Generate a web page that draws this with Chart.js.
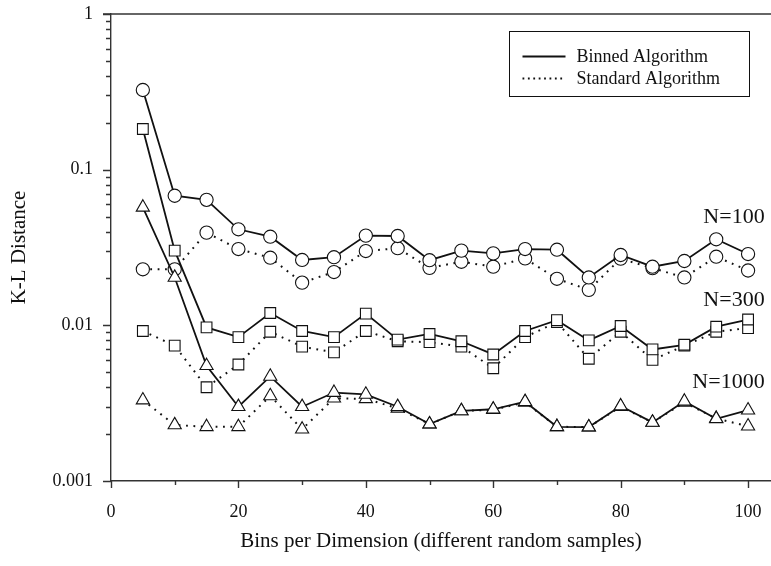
<!DOCTYPE html>
<html>
<head>
<meta charset="utf-8">
<title>K-L Distance vs Bins per Dimension</title>
<script src="https://cdn.jsdelivr.net/npm/chart.js@4.4.1/dist/chart.umd.min.js"></script>
<style>
  html, body { margin: 0; padding: 0; background: #fff; }
  #wrap { width: 771px; height: 566px; }
</style>
</head>
<body>
<div id="wrap"><canvas id="klChart" width="771" height="566"></canvas></div>
<script>
// bins per dimension (x values)
const bins = [5, 10, 15, 20, 25, 30, 35, 40, 45, 50, 55, 60, 65, 70, 75, 80, 85, 90, 95, 100];

// K-L distance, binned algorithm
const binnedN100 = [0.325, 0.068, 0.064, 0.0414, 0.0371, 0.0263, 0.0274, 0.0377, 0.0375, 0.0262, 0.0302, 0.0290, 0.0309, 0.0306, 0.0203, 0.0283, 0.0238, 0.0259, 0.0357, 0.0287];
const binnedN300 = [0.1825, 0.0302, 0.0097, 0.0084, 0.0120, 0.0092, 0.0084, 0.0119, 0.0081, 0.0088, 0.0079, 0.0065, 0.0092, 0.0108, 0.0080, 0.0099, 0.0070, 0.0075, 0.0098, 0.0109];
const binnedN1000 = [0.0573, 0.0203, 0.0055, 0.0030, 0.0047, 0.0030, 0.0037, 0.0036, 0.0030, 0.00232, 0.00282, 0.00289, 0.00323, 0.00223, 0.00222, 0.00303, 0.00238, 0.00325, 0.00251, 0.00285];

// K-L distance, standard algorithm
const standardN100 = [0.0229, 0.0229, 0.0394, 0.0309, 0.0272, 0.0188, 0.0220, 0.0300, 0.0313, 0.0234, 0.0256, 0.0238, 0.0269, 0.0199, 0.0169, 0.0268, 0.0233, 0.0203, 0.0276, 0.0225];
const standardN300 = [0.0092, 0.0074, 0.0040, 0.0056, 0.0091, 0.0073, 0.0067, 0.0092, 0.0079, 0.0078, 0.0073, 0.0053, 0.0084, 0.0105, 0.0061, 0.0091, 0.0060, 0.0074, 0.0091, 0.0096];
const standardN1000 = [0.00331, 0.00229, 0.00223, 0.00223, 0.00352, 0.00215, 0.0034, 0.00337, 0.00293, 0.00232, 0.00282, 0.00287, 0.0032, 0.00223, 0.00222, 0.0030, 0.00238, 0.0032, 0.00252, 0.00225];

// axis ticks
const xTicks = [0, 20, 40, 60, 80, 100];
const xMinorTicks = [10, 30, 50, 70, 90];
const yTicks = [0.001, 0.01, 0.1, 1];
const yTickLabels = ['0.001', '0.01', '0.1', '1'];

const sampleLabels = ['N=100', 'N=300', 'N=1000'];
const legendLabels = ['Binned Algorithm', 'Standard Algorithm'];

const SERIF = "'Liberation Serif', 'Times New Roman', serif";
const INK = '#111';

function toPoints(values) {
  return values.map(function(v, i) { return { x: bins[i], y: v }; });
}

function series(values, marker, dotted) {
  return {
    data: toPoints(values),
    borderColor: INK,
    borderWidth: dotted ? 2 : 1.8,
    borderDash: dotted ? [1.8, 5.6] : [],
    tension: 0,
    fill: false,
    pointStyle: marker,
    pointRadius: marker === 'circle' ? 6.6 : 7.6,
    pointBorderWidth: 1.1,
    pointBorderColor: INK,
    pointBackgroundColor: '#fff'
  };
}

// fixed axis box sizes, no extra label padding
function fixBox(size) {
  return function(s) {
    if (s.isHorizontal()) s.height = size; else s.width = size;
    s.paddingTop = 0;
    s.paddingBottom = 0;
    s.paddingLeft = 0;
    s.paddingRight = 0;
  };
}

// minor tick marks, top frame line, legend box and sample size labels
const decorations = {
  id: 'decorations',
  afterDraw: function(chart) {
    const ctx = chart.ctx;
    const area = chart.chartArea;
    const xs = chart.scales.x;
    const ys = chart.scales.y;
    ctx.save();
    ctx.strokeStyle = '#333';
    ctx.lineWidth = 1.4;

    // top frame
    ctx.beginPath();
    ctx.moveTo(area.left - 8, area.top);
    ctx.lineTo(area.right, area.top);
    ctx.stroke();

    // x ticks (outside, below the axis)
    ctx.beginPath();
    xTicks.forEach(function(v) {
      const px = Math.round(xs.getPixelForValue(v)) + 0.5;
      ctx.moveTo(px, area.bottom);
      ctx.lineTo(px, area.bottom + 7);
    });
    xMinorTicks.forEach(function(v) {
      const px = Math.round(xs.getPixelForValue(v)) + 0.5;
      ctx.moveTo(px, area.bottom);
      ctx.lineTo(px, area.bottom + 4);
    });
    ctx.stroke();

    // y ticks (outside, left of the axis), minor ticks at 2..9 of each decade
    ctx.beginPath();
    yTicks.forEach(function(v, i) {
      const py = Math.round(ys.getPixelForValue(v)) + 0.5;
      ctx.moveTo(area.left - 8, py);
      ctx.lineTo(area.left, py);
      if (i < yTicks.length - 1) {
        for (let m = 2; m <= 9; m++) {
          const pm = Math.round(ys.getPixelForValue(v * m)) + 0.5;
          ctx.moveTo(area.left - 5, pm);
          ctx.lineTo(area.left, pm);
        }
      }
    });
    ctx.stroke();

    // legend
    const bx = area.right - 261.5, by = area.top + 17.5, bw = 240, bh = 65;
    ctx.fillStyle = '#fff';
    ctx.fillRect(bx, by, bw, bh);
    ctx.lineWidth = 1;
    ctx.strokeStyle = INK;
    ctx.strokeRect(bx, by, bw, bh);
    const rows = [by + 25, by + 47];
    ctx.font = '18px ' + SERIF;
    ctx.fillStyle = INK;
    ctx.textBaseline = 'middle';
    ctx.textAlign = 'left';
    rows.forEach(function(ry, i) {
      ctx.beginPath();
      ctx.lineWidth = i === 0 ? 1.8 : 2;
      ctx.setLineDash(i === 0 ? [] : [1.8, 3.6]);
      ctx.moveTo(bx + 13, ry);
      ctx.lineTo(bx + 56, ry);
      ctx.stroke();
      ctx.setLineDash([]);
      ctx.fillText(legendLabels[i], bx + 67, ry + 1);
    });

    // sample size labels, right aligned next to their curves
    const anchors = [0.0497, 0.01455, 0.00432];
    ctx.font = '22px ' + SERIF;
    ctx.textAlign = 'right';
    sampleLabels.forEach(function(txt, i) {
      ctx.fillText(txt, xs.getPixelForValue(102.6), ys.getPixelForValue(anchors[i]));
    });
    ctx.restore();
  }
};

new Chart(document.getElementById('klChart'), {
  type: 'line',
  data: {
    datasets: [
      series(binnedN100, 'circle', false),
      series(binnedN300, 'rect', false),
      series(binnedN1000, 'triangle', false),
      series(standardN100, 'circle', true),
      series(standardN300, 'rect', true),
      series(standardN1000, 'triangle', true)
    ]
  },
  options: {
    responsive: false,
    animation: false,
    devicePixelRatio: 1,
    layout: { autoPadding: false, padding: { top: 14, right: 0, bottom: 0, left: 0 } },
    plugins: {
      legend: { display: false },
      tooltip: { enabled: false }
    },
    scales: {
      x: {
        type: 'linear',
        position: 'bottom',
        min: 0,
        max: 103.6,
        afterFit: fixBox(85),
        afterBuildTicks: function(s) { s.ticks = xTicks.map(function(v) { return { value: v }; }); },
        border: { display: true, color: '#333', width: 1.4 },
        grid: { drawOnChartArea: false, drawTicks: false },
        ticks: {
          color: INK,
          padding: 20,
          maxRotation: 0,
          autoSkip: false,
          font: { family: SERIF, size: 18 },
          callback: function(v) { return String(v); }
        },
        title: {
          display: true,
          text: 'Bins per Dimension (different random samples)',
          color: INK,
          font: { family: SERIF, size: 21 },
          padding: { top: 0, bottom: 12 }
        }
      },
      y: {
        type: 'logarithmic',
        min: 0.001,
        max: 1,
        afterFit: fixBox(111),
        afterBuildTicks: function(s) { s.ticks = yTicks.map(function(v) { return { value: v }; }); },
        border: { display: true, color: '#333', width: 1.4 },
        grid: { drawOnChartArea: false, drawTicks: false },
        ticks: {
          color: INK,
          padding: 18,
          autoSkip: false,
          font: { family: SERIF, size: 18 },
          callback: function(v) {
            const i = yTicks.indexOf(v);
            return i >= 0 ? yTickLabels[i] : '';
          }
        },
        title: {
          display: true,
          text: 'K-L Distance',
          color: INK,
          font: { family: SERIF, size: 21 },
          padding: { top: 7, bottom: 0 }
        }
      }
    }
  },
  plugins: [decorations]
});
</script>
</body>
</html>
